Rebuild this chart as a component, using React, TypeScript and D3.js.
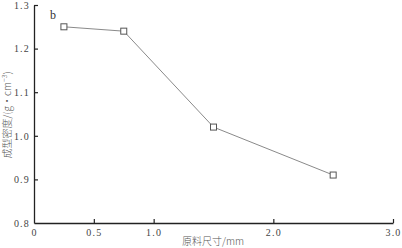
import { useEffect, useRef } from "react";
import * as d3 from "d3";

// 原料尺寸 (mm) vs 成型密度 (g·cm^-3)
const sizes = [0.25, 0.75, 1.5, 2.5];
const densities = [1.25, 1.24, 1.02, 0.91];
const xTicks = [0, 0.5, 1.0, 2.0, 3.0];
const yTicks = [0.8, 0.9, 1.0, 1.1, 1.2, 1.3];

const W = 402;
const H = 248;
const M = { top: 5, right: 9, bottom: 25, left: 34 };
const SERIF = "'Liberation Serif', 'DejaVu Serif', serif";
const CJK = "'Noto Sans CJK SC', sans-serif";

export default function App() {
  const svgRef = useRef<SVGSVGElement | null>(null);

  useEffect(() => {
    const svg = d3.select(svgRef.current);
    svg.selectAll("*").remove();

    const x = d3.scaleLinear().domain([0, 3]).range([M.left, W - M.right]);
    const y = d3.scaleLinear().domain([0.8, 1.3]).range([H - M.bottom, M.top]);

    // x axis, ticks point inward
    const xa = svg
      .append("g")
      .attr("transform", `translate(0,${H - M.bottom})`)
      .call(
        d3
          .axisBottom(x)
          .tickValues(xTicks)
          .tickSizeInner(-4)
          .tickSizeOuter(0)
          .tickFormat((d) => (d === 0 ? "0" : d3.format(".1f")(d as number)))
      );
    xa.select(".domain").attr("stroke", "#222").attr("stroke-width", 1.3);
    xa.selectAll(".tick line").attr("stroke", "#222").attr("stroke-width", 1.2);
    xa.selectAll(".tick text")
      .attr("y", 6)
      .attr("dy", "0.71em")
      .attr("font-size", 10)
      .attr("font-family", SERIF)
      .attr("letter-spacing", 1.2)
      .attr("fill", "#444");
    // no tick mark at the origin
    xa.selectAll<SVGGElement, number>(".tick").filter((d) => d === 0).select("line").remove();

    // y axis
    const ya = svg
      .append("g")
      .attr("transform", `translate(${M.left},0)`)
      .call(
        d3
          .axisLeft(y)
          .tickValues(yTicks)
          .tickSizeInner(-4)
          .tickSizeOuter(0)
          .tickFormat(d3.format(".1f"))
      );
    ya.select(".domain").attr("stroke", "#222").attr("stroke-width", 1.3);
    ya.selectAll(".tick line").attr("stroke", "#222").attr("stroke-width", 1.2);
    ya.selectAll(".tick text")
      .attr("x", -4)
      .attr("font-size", 10)
      .attr("font-family", SERIF)
      .attr("letter-spacing", 1.2)
      .attr("fill", "#444");
    ya.selectAll<SVGGElement, number>(".tick").filter((d) => d === 0.8).select("line").remove();

    const pts = sizes.map((s, i) => [s, densities[i]] as [number, number]);

    svg
      .append("path")
      .datum(pts)
      .attr("fill", "none")
      .attr("stroke", "#8a8a8a")
      .attr("stroke-width", 1)
      .attr(
        "d",
        d3
          .line<[number, number]>()
          .x((d) => x(d[0]))
          .y((d) => y(d[1]))
      );

    svg
      .append("g")
      .selectAll("rect")
      .data(pts)
      .join("rect")
      .attr("x", (d) => x(d[0]) - 3)
      .attr("y", (d) => y(d[1]) - 3)
      .attr("width", 6)
      .attr("height", 6)
      .attr("fill", "#fff")
      .attr("stroke", "#555")
      .attr("stroke-width", 1);

    svg
      .append("text")
      .attr("x", 50)
      .attr("y", 19)
      .attr("font-size", 12)
      .attr("font-family", SERIF)
      .attr("fill", "#333")
      .text("b");

    svg
      .append("text")
      .attr("x", 213)
      .attr("y", 245)
      .attr("text-anchor", "middle")
      .attr("font-size", 10)
      .attr("font-weight", 300)
      .attr("font-family", CJK)
      .attr("fill", "#555")
      .text("原料尺寸/mm");

    const yl = svg
      .append("text")
      .attr("transform", `translate(11,115) rotate(-90)`)
      .attr("text-anchor", "middle")
      .attr("font-size", 10)
      .attr("font-weight", 300)
      .attr("font-family", CJK)
      .attr("fill", "#555");
    yl.append("tspan").text("成型密度/(g·cm");
    yl.append("tspan").attr("font-size", 7).attr("dy", -4).text("−3");
    yl.append("tspan").attr("dy", 4).text(")");
  }, []);

  return (
    <svg
      ref={svgRef}
      width={W}
      height={H}
      viewBox={`0 0 ${W} ${H}`}
      style={{ position: "absolute", left: 0, top: 0, background: "#fff" }}
    />
  );
}
